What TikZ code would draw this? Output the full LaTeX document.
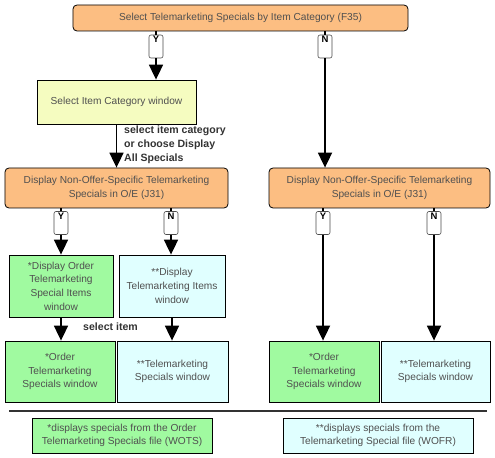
\documentclass[tikz,border=0pt]{standalone}
\usepackage{fontspec}
\setmainfont{Liberation Sans}
\usetikzlibrary{arrows.meta}
\definecolor{orng}{RGB}{252,190,130}
\definecolor{yel}{RGB}{245,252,192}
\definecolor{grn}{RGB}{160,250,160}
\definecolor{cyn}{RGB}{224,255,255}
\definecolor{txt}{RGB}{80,80,80}
\tikzset{
  box/.style={draw=black, line width=0.8pt, text=txt, font=\fontsize{10.2}{13.7}\selectfont, align=center, inner sep=1pt},
  proc/.style={box, fill=orng, rounded corners=4pt},
  win/.style={box, fill=yel},
  gbox/.style={box, fill=grn},
  cbox/.style={box, fill=cyn},
  yn/.style={draw=black!70, fill=white, rounded corners=2pt, line width=0.6pt, font=\bfseries\fontsize{9.5}{10}\selectfont, minimum width=14bp, inner sep=0pt, text height=8bp, text depth=15bp},
  flow/.style={line width=1.8pt, draw=black},
  arr/.style={flow, -{Triangle[width=14bp,length=15bp]}},
  note/.style={font=\bfseries\fontsize{10.6}{14}\selectfont, text=black!80, align=left, inner sep=0pt}
}
\begin{document}
\begin{tikzpicture}[x=1bp,y=-1bp]
\useasboundingbox (0,0) rectangle (495,458);
\node[proc, minimum width=335bp, minimum height=26bp] (top) at (240.5,18) {Select Telemarketing Specials by Item Category (F35)};
\node[yn] (y1) at (156,46.5) {Y};
\node[yn] (n1) at (325,46.5) {N};
\node[win, minimum width=159bp, minimum height=44bp] (sel) at (116.5,102) {Select Item Category window};
\node[proc, minimum width=223bp, minimum height=40bp] (jl) at (116.5,188) {Display Non-Offer-Specific Telemarketing\\Specials in O/E (J31)};
\node[proc, minimum width=221bp, minimum height=40bp] (jr) at (379.5,188) {Display Non-Offer-Specific Telemarketing\\Specials in O/E (J31)};
\node[yn] (y2) at (61,223) {Y};
\node[yn] (n2) at (171,223) {N};
\node[yn] (y3) at (323,223) {Y};
\node[yn] (n3) at (434,223) {N};
\node[gbox, minimum width=104bp, minimum height=62bp] (g1) at (61,286) {*Display Order\\Telemarketing\\Special Items\\window};
\node[cbox, minimum width=106bp, minimum height=62bp] (c1) at (172,286) {**Display\\Telemarketing Items\\window};
\node[gbox, minimum width=110bp, minimum height=61bp] (g2) at (60,371.5) {*Order\\Telemarketing\\Specials window};
\node[cbox, minimum width=111bp, minimum height=61bp] (c2) at (172.5,371.5) {**Telemarketing\\Specials window};
\node[gbox, minimum width=110bp, minimum height=61bp] (g3) at (324,371.5) {*Order\\Telemarketing\\Specials window};
\node[cbox, minimum width=109bp, minimum height=61bp] (c3) at (435.5,371.5) {**Telemarketing\\Specials window};
\node[gbox, minimum width=180bp, minimum height=35bp] (l1) at (122,435.5) {*displays specials from the Order\\Telemarketing Specials file (WOTS)};
\node[cbox, minimum width=190bp, minimum height=35bp] (l2) at (378,435.5) {**displays specials from the\\Telemarketing Special file (WOFR)};
\node[note, anchor=north west] (lab1) at (124,126) {select item category\\or choose Display\\All Specials};
\node[note, anchor=west] (lab2) at (83,327) {select item};
% connectors
\draw[flow] (top.south -| y1) -- (y1.north);
\draw[arr] (y1.south) -- (sel.north -| y1);
\draw[flow] (top.south -| n1) -- (n1.north);
\draw[arr] (n1.south) -- (jr.north -| n1);
\draw[arr] (sel.south) -- (jl.north);
\draw[flow] (jl.south -| y2) -- (y2.north);
\draw[arr] (y2.south) -- (g1.north -| y2);
\draw[flow] (jl.south -| n2) -- (n2.north);
\draw[arr] (n2.south) -- (c1.north -| n2);
\draw[flow] (jr.south -| y3) -- (y3.north);
\draw[arr] (y3.south) -- (g3.north -| y3);
\draw[flow] (jr.south -| n3) -- (n3.north);
\draw[arr] (n3.south) -- (c3.north -| n3);
\draw[arr] (g1.south) -- (g2.north -| g1.south);
\draw[arr] (c1.south) -- (c2.north -| c1.south);
\draw[line width=1.5pt, draw=black!80] (9,411) -- (487,411);
\end{tikzpicture}
\end{document}
